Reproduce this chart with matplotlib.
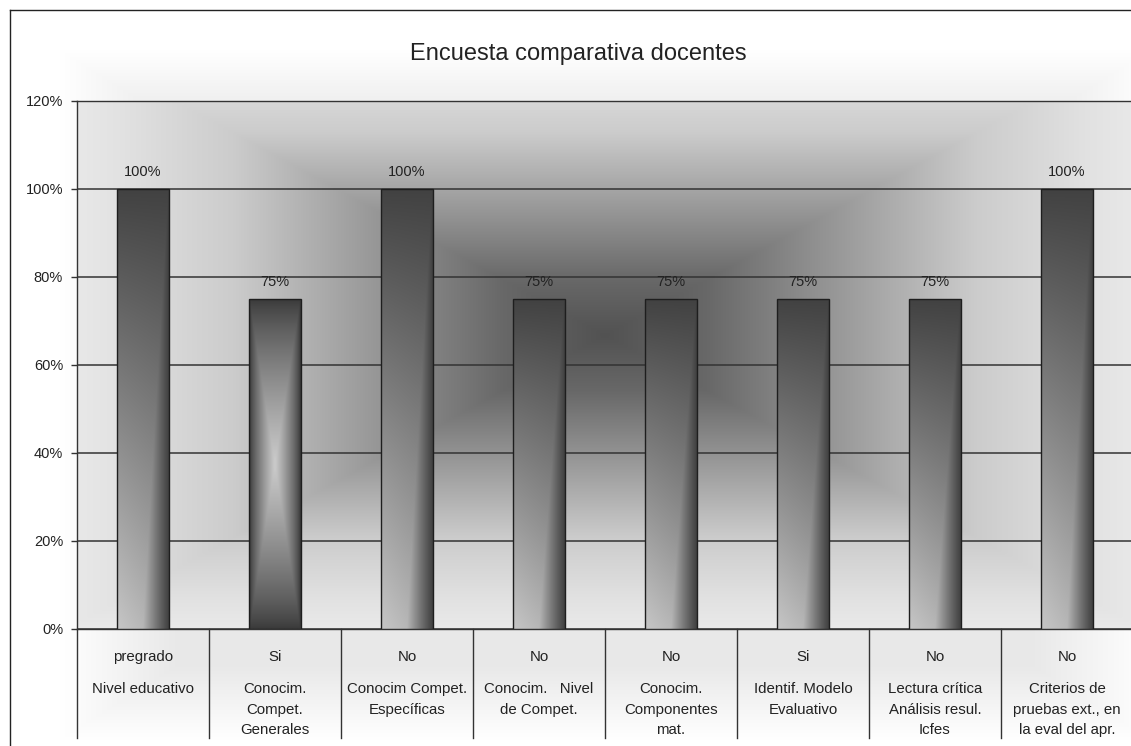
# plot.py
# Encuesta comparativa docentes - Excel style bar chart with gradients
# ----------------------------------------

import numpy as np
import matplotlib
matplotlib.use("Agg")
import matplotlib.pyplot as plt

plt.rcParams["font.family"] = ["Liberation Sans", "DejaVu Sans"]

# ── Data ──────────────────────────────────────────────────────────────────────
answers = ["pregrado", "Si", "No", "No", "No", "Si", "No", "No"]
questions = [
    "Nivel educativo",
    "Conocim.\nCompet.\nGenerales",
    "Conocim Compet.\nEspecíficas",
    "Conocim.   Nivel\nde Compet.",
    "Conocim.\nComponentes\nmat.",
    "Identif. Modelo\nEvaluativo",
    "Lectura crítica\nAnálisis resul.\nIcfes",
    "Criterios de\npruebas ext., en\nla eval del apr.",
]
values = [1.00, 0.75, 1.00, 0.75, 0.75, 0.75, 0.75, 1.00]
y_ticks = [0.0, 0.2, 0.4, 0.6, 0.8, 1.0, 1.2]
y_tick_labels = ["0%", "20%", "40%", "60%", "80%", "100%", "120%"]
title = "Encuesta comparativa docentes"

# bar fill style (Excel gradient kind), one per bar
fill_style = ["corner", "center", "corner", "corner", "corner", "corner", "corner", "corner"]

# ── Layout (pixels) ───────────────────────────────────────────────────────────
W, H = 1131, 746
PLOT_L, PLOT_R = 77, 1133
PLOT_T, PLOT_B = 101, 629
BAR_W = 0.39
INK = "#222222"
LINE = "#333333"


def gray_img(g):
    g = np.clip(g, 0, 255) / 255.0
    return np.dstack([g, g, g])


def bar_gradient(kind, nx=40, ny=200):
    u = np.linspace(0, 1, nx)[None, :]
    v = np.linspace(0, 1, ny)[:, None]
    if kind == "center":
        d = np.maximum(np.abs(u - 0.5) / 0.5, np.abs(v - 0.5) / 0.5)
        L = (1 - d) ** 0.8
        return gray_img(0x3a + L * (0xcc - 0x3a))
    a = 1 - v
    h = np.clip((1 - u) / 0.5, 0, 1)
    L = np.minimum(a, h) * (1 - 0.22 * u)
    return gray_img(0x42 + L * (0xc6 - 0x42))


fig = plt.figure(figsize=(W / 100, H / 100), dpi=100)

# ── Chart area background ─────────────────────────────────────────────────────
bg = fig.add_axes([0, 0, 1, 1], zorder=-10)
bg.set_xlim(0, W)
bg.set_ylim(H, 0)
bg.axis("off")
px, py = np.meshgrid(np.arange(W) + 0.5, np.arange(H) + 0.5)
d_chart = np.maximum(np.abs(px - 605) / 545, np.abs(py - 395) / 345)
bg.imshow(gray_img(np.interp(d_chart, [0.78, 1.0], [232, 255])),
          extent=(0, W, H, 0), aspect="auto", interpolation="bilinear")
bg.plot([10, 10], [10, H], color=INK, lw=1)
bg.plot([10, W], [10, 10], color=INK, lw=1)

# ── Plot area ─────────────────────────────────────────────────────────────────
ax = fig.add_axes([PLOT_L / W, (H - PLOT_B) / H,
                   (PLOT_R - PLOT_L) / W, (PLOT_B - PLOT_T) / H])
n = len(values)

gx, gy = np.meshgrid(np.linspace(PLOT_L, PLOT_R, 400), np.linspace(PLOT_T, PLOT_B, 240))
d_plot = np.maximum(np.abs(gx - 605) / 540, np.abs(gy - 395) / 295)
shade = np.interp(d_plot, [0, 0.19, 0.31, 0.48, 0.69, 0.9, 1.0], [82, 104, 128, 162, 204, 226, 234])
ax.imshow(gray_img(shade), extent=(-0.5, n - 0.5, y_ticks[-1], y_ticks[0]),
          aspect="auto", interpolation="bilinear", zorder=0)

ax.set_yticks(y_ticks)
ax.set_yticklabels(y_tick_labels)
ax.set_xticks([])
ax.yaxis.grid(True, color=LINE, lw=1.1, zorder=1)
ax.set_axisbelow(True)
ax.tick_params(axis="y", length=4, width=1, color=LINE, pad=6,
               labelsize=10.5, labelcolor=INK)
ax.spines["right"].set_visible(False)
for side in ["left", "bottom", "top"]:
    ax.spines[side].set_color(LINE)
    ax.spines[side].set_linewidth(1)

# ── Bars ──────────────────────────────────────────────────────────────────────
xs = np.arange(n)
bars = ax.bar(xs, values, width=BAR_W, facecolor="none",
              edgecolor="#1e1e1e", lw=1, zorder=4)
for b, kind in zip(bars, fill_style):
    x0, w, hgt = b.get_x(), b.get_width(), b.get_height()
    im = ax.imshow(bar_gradient(kind), extent=(x0, x0 + w, 0, hgt), origin="lower",
                   aspect="auto", interpolation="bilinear", zorder=3)
    im.set_clip_path(b)
ax.set_xlim(-0.5, n - 0.5)
ax.set_ylim(y_ticks[0], y_ticks[-1])

for x, v in zip(xs, values):
    ax.annotate(f"{round(v * 100)}%", (x, v), xytext=(0, 7), textcoords="offset points",
                ha="center", va="bottom", fontsize=10.5, color=INK, zorder=5)

# ── Category axis (two-level labels) ─────────────────────────────────────────
tr = ax.get_xaxis_transform()
plot_h = PLOT_B - PLOT_T


def ypos(pix):
    return -(pix - PLOT_B) / plot_h


for k in range(n + 1):
    ax.plot([k - 0.5, k - 0.5], [0, ypos(738)], transform=tr, color=LINE,
            lw=1, clip_on=False)

for x, ans, q in zip(xs, answers, questions):
    ax.text(x, ypos(661), ans, transform=tr, ha="center", va="baseline",
            fontsize=10.8, color=INK)
    for i, line in enumerate(q.split("\n")):
        ax.text(x, ypos(693 + i * 20.7), line, transform=tr, ha="center",
                va="baseline", fontsize=10.8, color=INK)

# ── Title ─────────────────────────────────────────────────────────────────────
fig.text(578 / W, 1 - 54 / H, title, ha="center", va="center",
         fontsize=17, color=INK)

fig.savefig("out.png", dpi=100)
